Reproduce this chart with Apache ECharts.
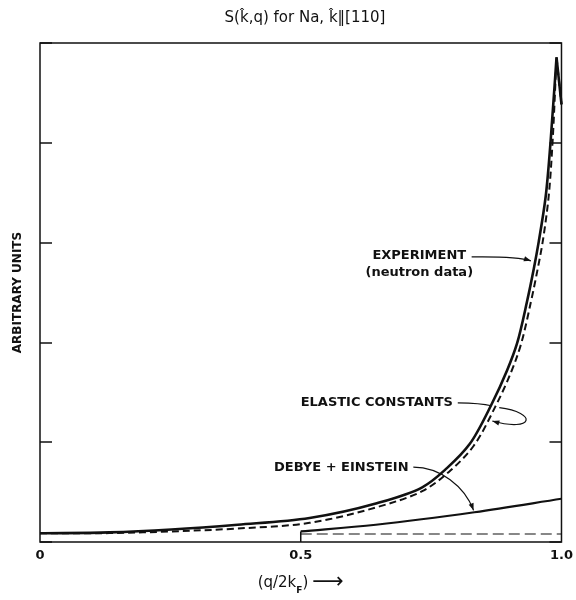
<!DOCTYPE html>
<html>
<head>
<meta charset="utf-8">
<script src="https://cdn.jsdelivr.net/npm/echarts@6/dist/echarts.min.js"></script>
<style>html,body{margin:0;padding:0;background:#fff}#c{width:576px;height:600px}</style>
</head>
<body>
<div id="c"></div>
<script>
// ---- data ----
const qExperiment = [0, 0.1326, 0.252, 0.379, 0.517, 0.644, 0.733, 0.7803, 0.8239, 0.8655, 0.8958, 0.9148, 0.9337, 0.947, 0.9564, 0.9697, 0.9792, 0.9905, 1.0];
const sExperiment = [0.087, 0.096, 0.125, 0.173, 0.240, 0.385, 0.548, 0.740, 0.981, 1.375, 1.721, 1.990, 2.404, 2.740, 3.010, 3.462, 4.019, 4.856, 4.385];
const qElastic = [0, 0.1326, 0.252, 0.379, 0.517, 0.644, 0.733, 0.784, 0.8314, 0.8731, 0.9034, 0.9223, 0.9413, 0.9545, 0.964, 0.9754, 0.983, 0.9905, 1.0];
const sElastic = [0.087, 0.089, 0.106, 0.135, 0.192, 0.346, 0.510, 0.702, 0.962, 1.356, 1.702, 1.981, 2.404, 2.740, 3.010, 3.462, 4.019, 4.856, 4.385];
const qDebye = [0.5, 0.644, 0.833, 1.0];
const sDebye = [0.106, 0.173, 0.298, 0.433];
const qDebyeStem = [0.5, 0.5];
const sDebyeStem = [0, 0.106];
const qFlat = [0.5, 1.0];
const sFlat = [0.08, 0.08];
const xTickValues = [0, 0.5, 1.0];
const xTickLabels = ['0', '0.5', '1.0'];

const pairs = (xs, ys) => xs.map((x, i) => [x, ys[i]]);
const FONT = 'DejaVu Sans';
const INK = '#111';

// centripetal Catmull-Rom through pixel points -> SVG path; the curve may break (corner) at given indices
function splinePath(P, corners) {
  let d = 'M' + P[0][0] + ' ' + P[0][1];
  const dist = (a, b) => Math.pow(Math.hypot(b[0] - a[0], b[1] - a[1]), 0.5) || 1e-6;
  for (let i = 0; i < P.length - 1; i++) {
    const p1 = P[i], p2 = P[i + 1];
    const startCorner = i === 0 || corners.includes(i);
    const endCorner = i + 1 === P.length - 1 || corners.includes(i + 1);
    const p0 = startCorner ? [2 * p1[0] - p2[0], 2 * p1[1] - p2[1]] : P[i - 1];
    const p3 = endCorner ? [2 * p2[0] - p1[0], 2 * p2[1] - p1[1]] : P[i + 2];
    const d1 = dist(p0, p1), d2 = dist(p1, p2), d3 = dist(p2, p3);
    const b1 = [0, 1].map(k => (d1 * d1 * p2[k] - d2 * d2 * p0[k] + (2 * d1 * d1 + 3 * d1 * d2 + d2 * d2) * p1[k]) / (3 * d1 * (d1 + d2)));
    const b2 = [0, 1].map(k => (d3 * d3 * p1[k] - d2 * d2 * p3[k] + (2 * d3 * d3 + 3 * d3 * d2 + d2 * d2) * p2[k]) / (3 * d3 * (d3 + d2)));
    d += ' C' + b1[0] + ' ' + b1[1] + ' ' + b2[0] + ' ' + b2[1] + ' ' + p2[0] + ' ' + p2[1];
  }
  return d;
}
function curveSeries(name, qs, ss, style, corners) {
  return {
    type: 'custom', name: name, coordinateSystem: 'cartesian2d', data: pairs(qs, ss),
    encode: {x: 0, y: 1}, clip: false,
    renderItem: (params, api) => {
      if (params.dataIndex !== 0) return null;
      const P = qs.map((q, i) => api.coord([q, ss[i]]));
      return {type: 'path', shape: {pathData: splinePath(P, corners)}, style: Object.assign({fill: null, stroke: INK}, style)};
    }
  };
}

const chart = echarts.init(document.getElementById('c'), null, {renderer: 'canvas'});
chart.setOption({
  animation: false,
  backgroundColor: '#fff',
  title: {
    text: 'S(k\u0302,q) for Na, k\u0302\u2016[110]',
    left: 300, top: 6, textAlign: 'center',
    textStyle: {fontFamily: FONT, fontSize: 15, fontWeight: 'normal', color: INK}
  },
  grid: {left: 40, right: 8, top: 43, bottom: 37, show: true, borderColor: INK, borderWidth: 1.5, backgroundColor: 'transparent'},
  xAxis: {
    type: 'value', min: 0, max: 1, interval: 0.5,
    axisLine: {show: false}, axisTick: {show: false}, splitLine: {show: false},
    axisLabel: {
      margin: 7, color: INK, fontFamily: FONT, fontSize: 13, fontWeight: 'bold',
      formatter: v => { const i = xTickValues.indexOf(v); return i >= 0 ? xTickLabels[i] : ''; }
    },
    name: '{a|(q/2k}{s|F}{a|)}{b|\u27F6}',
    nameLocation: 'middle', nameGap: 29,
    nameTextStyle: {
      rich: {
        a: {fontFamily: FONT, fontSize: 15, fontWeight: 'normal', color: INK},
        s: {fontFamily: FONT, fontSize: 9, fontWeight: 'bold', color: INK, verticalAlign: 'bottom', padding: [7, 0, 0, 0]},
        b: {fontFamily: FONT, fontSize: 22, color: INK, padding: [0, 0, 2, 4]}
      }
    }
  },
  yAxis: [{
    type: 'value', min: 0, max: 5, interval: 1, position: 'left',
    axisLine: {show: false}, splitLine: {show: false},
    axisTick: {show: true, inside: true, length: 12, lineStyle: {color: INK, width: 1.5}},
    axisLabel: {show: false},
    name: 'ARBITRARY UNITS', nameLocation: 'middle', nameGap: 16,
    nameTextStyle: {fontFamily: FONT, fontSize: 12, fontWeight: 'bold', color: INK}
  }, {
    type: 'value', min: 0, max: 5, interval: 1, position: 'right',
    axisLine: {show: false}, splitLine: {show: false},
    axisTick: {show: true, inside: true, length: 12, lineStyle: {color: INK, width: 1.5}},
    axisLabel: {show: false}
  }],
  series: [
    curveSeries('Experiment', qExperiment, sExperiment, {lineWidth: 2.6}, [qExperiment.length - 2]),
    curveSeries('Elastic constants', qElastic, sElastic, {lineWidth: 2, lineDash: [7, 4]}, [qElastic.length - 2]),
    curveSeries('Debye + Einstein', qDebye, sDebye, {lineWidth: 2.2}, []),
    {type: 'line', name: 'stem', data: pairs(qDebyeStem, sDebyeStem), symbol: 'none',
     lineStyle: {color: INK, width: 1.5}},
    {type: 'line', name: 'flat', data: pairs(qFlat, sFlat), symbol: 'none',
     lineStyle: {color: INK, width: 1.2, type: [11, 5]}}
  ]
});

// ---- annotations (positions in data units, converted through the axes) ----
const labels = [
  {text: 'EXPERIMENT', q: 0.7273, s: 2.865},
  {text: '(neutron data)', q: 0.7273, s: 2.700},
  {text: 'ELASTIC CONSTANTS', q: 0.6458, s: 1.394},
  {text: 'DEBYE + EINSTEIN', q: 0.5777, s: 0.750}
];
const leaders = [
  {p: [[0.8277, 2.856], [0.8807, 2.860], [0.9186, 2.856], [0.9413, 2.817]], arrow: true},
  {p: [[0.8011, 1.394], [0.83, 1.392], [0.85, 1.385], [0.8655, 1.365]], arrow: false},
  {p: [[0.8807, 1.346], [0.9555, 1.298], [0.9470, 1.096], [0.8674, 1.212]], arrow: true},
  {p: [[0.7159, 0.750], [0.767, 0.750], [0.8144, 0.5577], [0.8314, 0.3173]], arrow: true}
];
const px = (q, s) => chart.convertToPixel({gridIndex: 0}, [q, s]);
const graphics = [];
labels.forEach(l => {
  const [x, y] = px(l.q, l.s);
  graphics.push({type: 'text', x: x, y: y, style: {text: l.text, fill: INK, font: 'bold 13px "DejaVu Sans"', textAlign: 'center', textVerticalAlign: 'middle'}});
});
leaders.forEach(L => {
  const pts = L.p.map(a => px(a[0], a[1]));
  graphics.push({type: 'bezierCurve', shape: {x1: pts[0][0], y1: pts[0][1], cpx1: pts[1][0], cpy1: pts[1][1], cpx2: pts[2][0], cpy2: pts[2][1], x2: pts[3][0], y2: pts[3][1]},
    style: {stroke: INK, lineWidth: 1.2, fill: null}});
  if (L.arrow) {
    const tip = pts[3], from = pts[2];
    let dx = tip[0] - from[0], dy = tip[1] - from[1];
    const len = Math.hypot(dx, dy); dx /= len; dy /= len;
    const size = 7, w = 2.6;
    const bx = tip[0] - dx * size, by = tip[1] - dy * size;
    graphics.push({type: 'polygon', shape: {points: [tip, [bx - dy * w, by + dx * w], [bx + dy * w, by - dx * w]]}, style: {fill: INK}});
  }
});
chart.setOption({graphic: graphics});
</script>
</body>
</html>
